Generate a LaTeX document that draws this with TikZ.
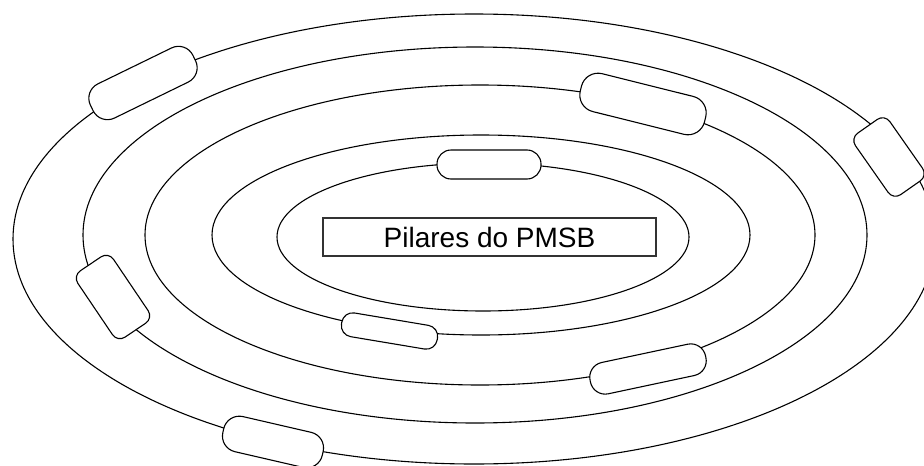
\documentclass[tikz,border=0pt]{standalone}
\usepackage{fontspec}
\setmainfont{Liberation Sans}
\usetikzlibrary{shapes.geometric}
\tikzset{
  ring/.style={draw, ellipse, inner sep=0pt, line width=1.1pt},
  pill/.style={draw, fill=white, rectangle, inner sep=0pt, line width=1.1pt},
  titlebox/.style={draw=black!80, rectangle, inner sep=0pt, line width=1.1pt,
     minimum width=333pt, minimum height=38pt, font=\fontsize{28}{30}\selectfont}
}
\begin{document}
\begin{tikzpicture}[x=1pt,y=-1pt]
\useasboundingbox (0,0) rectangle (924,466);
\clip (0,0) rectangle (924,466);
% rings
\node[ring, minimum width=922pt, minimum height=450pt] (r1) at (474,239) {};
\node[ring, minimum width=784pt, minimum height=376pt] (r2) at (475,235) {};
\node[ring, minimum width=670pt, minimum height=300pt] (r3) at (480,235) {};
\node[ring, minimum width=538pt, minimum height=200pt] (r4) at (481,235) {};
\node[ring, minimum width=412pt, minimum height=148pt] (r5) at (483,237) {};
% pills
\node[pill, rotate=26, minimum width=114pt, minimum height=38pt, rounded corners=16pt] (p1) at (143,83) {};
\node[pill, rotate=-14, minimum width=128pt, minimum height=39pt, rounded corners=17pt] (p2) at (643,104) {};
\node[pill, rotate=-55, minimum width=75pt, minimum height=42pt, rounded corners=9pt] (p3) at (889,157) {};
\node[pill, rotate=-56, minimum width=80pt, minimum height=43pt, rounded corners=9pt] (p4) at (113,297) {};
\node[pill, minimum width=104pt, minimum height=29pt, rounded corners=14pt] (p5) at (489,164.5) {};
\node[pill, rotate=-9.5, minimum width=97pt, minimum height=24pt, rounded corners=11pt] (p6) at (389.5,331) {};
\node[pill, rotate=12, minimum width=118pt, minimum height=32pt, rounded corners=15pt] (p7) at (648,369) {};
\node[pill, rotate=-13, minimum width=102pt, minimum height=36pt, rounded corners=16pt] (p8) at (273,442) {};
% title
\node[titlebox] (title) at (489.5,237) {\raisebox{-3pt}{Pilares do PMSB}};
\end{tikzpicture}
\end{document}
